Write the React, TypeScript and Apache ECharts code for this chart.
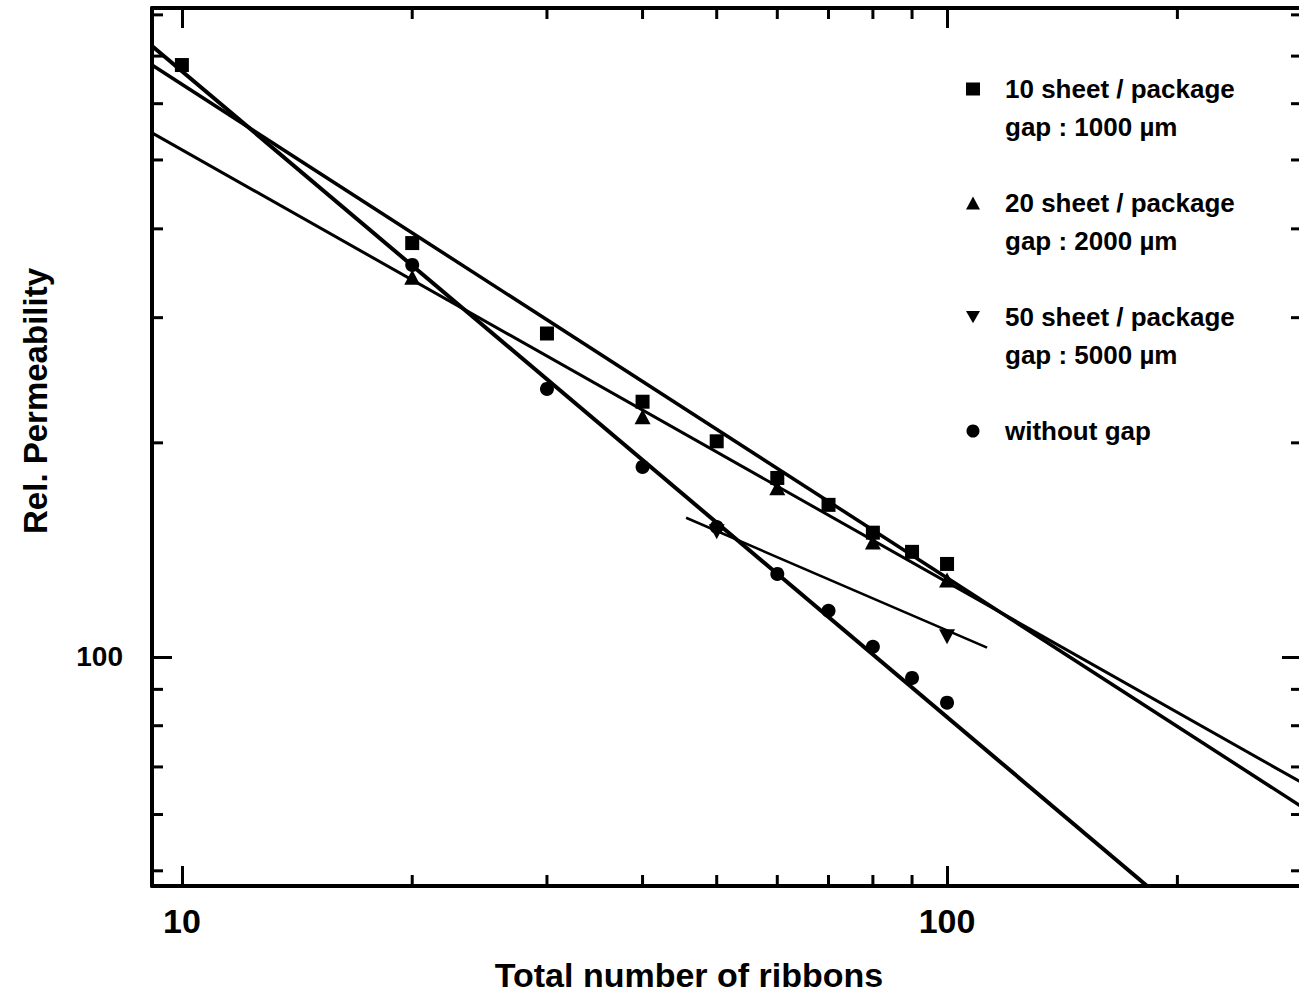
import React, { useEffect, useRef } from 'react';
import * as echarts from 'echarts';

// ---- data ----
const X_MIN = 9.14;
const X_MAX = 291;
const Y_MIN = 47.6;
const Y_MAX = 818;

const seriesNames = ['10 sheet / package', '20 sheet / package', '50 sheet / package', 'without gap'];
const legendSecondLines = ['gap : 1000 µm', 'gap : 2000 µm', 'gap : 5000 µm', ' '];

const xSheet10 = [10, 20, 30, 40, 50, 60, 70, 80, 90, 100];
const ySheet10 = [680, 382, 285, 228.5, 201, 178.5, 163.6, 149.5, 140.5, 135.1];

const xSheet20 = [20, 40, 60, 80, 100];
const ySheet20 = [342, 217.6, 172.9, 145.1, 128.3];

const xSheet50 = [50, 100];
const ySheet50 = [149.9, 106.7];

const xNoGap = [20, 30, 40, 50, 60, 70, 80, 90, 100];
const yNoGap = [355.9, 238.2, 185.0, 152.3, 130.8, 116.1, 103.3, 93.4, 86.2];

// fitted straight lines (end points)
const fit10X = [9.14, 291];
const fit10Y = [680, 61.5];
const fit20X = [9.14, 291];
const fit20Y = [545.8, 66.5];
const fit50X = [45.6, 112.8];
const fit50Y = [156.9, 103.0];
const fitNoGapX = [9.14, 182.6];
const fitNoGapY = [723.4, 47.6];

const xMinorTicks = [20, 30, 40, 50, 60, 70, 80, 90, 200];
const yMinorTicks = [50, 60, 70, 80, 90, 200, 300, 400, 500, 600, 700, 800];

const FONT = "'Liberation Sans', Arial, Helvetica, sans-serif";
const INK = '#000';
const INVERTED_TRIANGLE = 'path://M0,0L16,0L8,14Z';

const pairs = (xs: number[], ys: number[]) => xs.map((x, i) => [x, ys[i]]);

const decadeLabel = (v: number) => {
  const l = Math.log10(v);
  return Math.abs(l - Math.round(l)) < 1e-6 ? String(Math.round(v)) : '';
};

const axisBase = {
  type: 'log',
  logBase: 10,
  axisLine: { show: true, onZero: false, lineStyle: { color: INK, width: 4 } },
  axisTick: { show: true, inside: true, length: 20, lineStyle: { color: INK, width: 3 } },
  splitLine: { show: false },
  minorTick: { show: false },
};

function fitLine(xs: number[], ys: number[], width: number) {
  return {
    type: 'line',
    data: pairs(xs, ys),
    symbol: 'none',
    silent: true,
    clip: true,
    z: 2,
    lineStyle: { color: INK, width },
  };
}

function points(name: string, xs: number[], ys: number[], symbol: string, size: number | number[]) {
  return {
    type: 'scatter',
    name,
    data: pairs(xs, ys),
    symbol,
    symbolSize: size,
    itemStyle: { color: INK, opacity: 1 },
    z: 3,
  };
}

export default function App() {
  const ref = useRef<HTMLDivElement>(null);

  useEffect(() => {
    const chart = echarts.init(ref.current!, null, { renderer: 'svg' });
    const tickStyle = { stroke: INK, lineWidth: 3 };
    const option: any = {
      animation: false,
      backgroundColor: '#fff',
      grid: { left: 152, top: 8, width: 1150, height: 878, containLabel: false, outerBoundsMode: 'none' },
      xAxis: [
        {
          ...axisBase,
          min: X_MIN,
          max: X_MAX,
          position: 'bottom',
          name: 'Total number of ribbons',
          nameLocation: 'middle',
          nameGap: 72,
          nameTextStyle: { fontSize: 34, fontWeight: 'bold', fontFamily: FONT, color: INK, padding: [0, 76, 0, 0] },
          axisLabel: { show: true, margin: 18, fontSize: 34, fontWeight: 'bold', fontFamily: FONT, color: INK, formatter: decadeLabel },
        },
        {
          ...axisBase,
          min: X_MIN,
          max: X_MAX,
          position: 'top',
          axisLabel: { show: false },
        },
      ],
      yAxis: [
        {
          ...axisBase,
          min: Y_MIN,
          max: Y_MAX,
          position: 'left',
          name: 'Rel. Permeability',
          nameLocation: 'middle',
          nameGap: 100,
          nameTextStyle: { fontSize: 33, fontWeight: 'bold', fontFamily: FONT, color: INK, padding: [0, 0, 0, 92] },
          axisLabel: { show: true, margin: 29, fontSize: 28, fontWeight: 'bold', fontFamily: FONT, color: INK, formatter: decadeLabel },
        },
        {
          ...axisBase,
          min: Y_MIN,
          max: Y_MAX,
          position: 'right',
          axisLabel: { show: false },
        },
      ],
      legend: {
        show: true,
        orient: 'vertical',
        left: 966,
        top: 32,
        padding: 0,
        itemWidth: 14,
        itemHeight: 13,
        itemGap: 0,
        selectedMode: false,
        data: seriesNames.map((n) => ({ name: n })),
        formatter: (name: string) => {
          const i = seriesNames.indexOf(name);
          return ' \n' + name + '\n' + legendSecondLines[i];
        },
        textStyle: { fontSize: 26, fontWeight: 'bold', lineHeight: 38, fontFamily: FONT, color: INK, padding: [0, 0, 0, 20] },
      },
      series: [
        fitLine(fit10X, fit10Y, 3.5),
        fitLine(fit20X, fit20Y, 3),
        fitLine(fit50X, fit50Y, 2.5),
        fitLine(fitNoGapX, fitNoGapY, 4),
        points(seriesNames[0], xSheet10, ySheet10, 'rect', 14),
        points(seriesNames[1], xSheet20, ySheet20, 'triangle', [16, 15]),
        points(seriesNames[2], xSheet50, ySheet50, INVERTED_TRIANGLE, [16, 15]),
        points(seriesNames[3], xNoGap, yNoGap, 'circle', 14),
        {
          type: 'custom',
          silent: true,
          clip: false,
          z: 5,
          data: xMinorTicks.map((v) => [v, Y_MIN]),
          encode: { x: 0, y: 1 },
          renderItem: (params: any, api: any) => {
            const cs = params.coordSys;
            const px = api.coord([api.value(0), api.value(1)])[0];
            return {
              type: 'group',
              children: [
                { type: 'line', shape: { x1: px, y1: cs.y + cs.height, x2: px, y2: cs.y + cs.height - 11 }, style: tickStyle },
                { type: 'line', shape: { x1: px, y1: cs.y, x2: px, y2: cs.y + 11 }, style: tickStyle },
              ],
            };
          },
        },
        {
          type: 'custom',
          silent: true,
          clip: false,
          z: 5,
          data: yMinorTicks.map((v) => [X_MIN, v]),
          encode: { x: 0, y: 1 },
          renderItem: (params: any, api: any) => {
            const cs = params.coordSys;
            const py = api.coord([api.value(0), api.value(1)])[1];
            return {
              type: 'group',
              children: [
                { type: 'line', shape: { x1: cs.x, y1: py, x2: cs.x + 11, y2: py }, style: tickStyle },
                { type: 'line', shape: { x1: cs.x + cs.width, y1: py, x2: cs.x + cs.width - 11, y2: py }, style: tickStyle },
              ],
            };
          },
        },
      ],
    };
    chart.setOption(option);
    return () => chart.dispose();
  }, []);

  return (
    <div
      ref={ref}
      style={{ position: 'absolute', left: 0, top: 0, width: 1299, height: 1006, background: '#fff' }}
    />
  );
}
